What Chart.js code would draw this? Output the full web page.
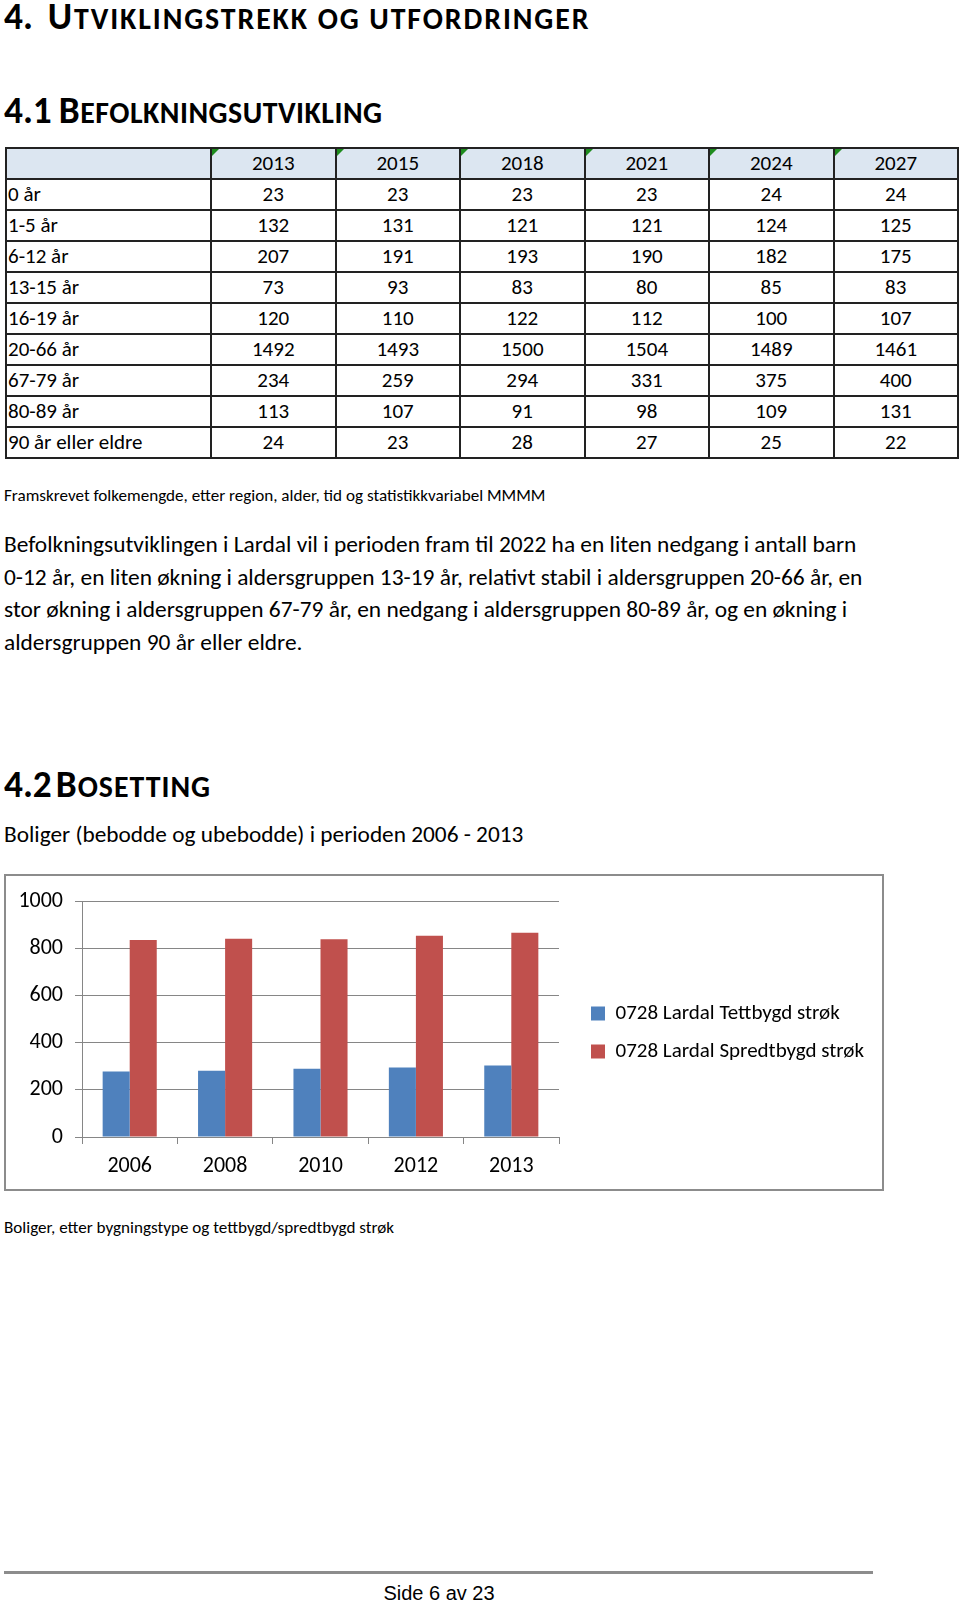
<!DOCTYPE html>
<html><head><meta charset="utf-8">
<script src="https://cdn.jsdelivr.net/npm/chart.js@4.4.1/dist/chart.umd.min.js"></script>
<style>
html,body{margin:0;padding:0;background:#fff;}
body{width:960px;height:1602px;position:relative;overflow:hidden;font-family:Carlito,Lato,sans-serif;color:#000;}
.abs{position:absolute;white-space:nowrap;}
.head{font-weight:bold;font-size:37.3px;line-height:30px;}
.head .sc{font-size:0.8em;}
.gap{display:inline-block;}
table{position:absolute;left:5px;top:147px;width:952px;border-collapse:collapse;table-layout:fixed;font-size:21px;}
td{border:2px solid #222;height:29px;padding:0;line-height:29px;text-align:center;position:relative;}
td.lab{text-align:left;padding-left:1px;}
tr.hdr td{background:#dce6f1;}
tr.hdr td.yr::before{content:"";position:absolute;left:0;top:0;border-top:7px solid #1e8c1e;border-right:7px solid transparent;}
#box{position:absolute;left:4px;top:874px;width:880px;height:317px;border:2px solid #8c8c8c;box-sizing:border-box;}
#box canvas{display:block;}
#rule{position:absolute;left:4px;top:1571px;width:869px;height:3px;background:#8c8c8c;}
</style></head>
<body>
<div class="abs head" style="left:4px;top:1px;">4.<span class="gap" style="width:14.9px"> </span><span style="letter-spacing:1.9px">U<span class="sc">TVIKLINGSTREKK OG UTFORDRINGER</span></span></div>
<div class="abs head" style="left:4px;top:94.6px;">4.1<span class="gap" style="width:7px"> </span><span style="letter-spacing:0.5px">B<span class="sc">EFOLKNINGSUTVIKLING</span></span></div>
<table id="tbl"></table>
<div class="abs" style="left:4px;top:486px;font-size:17.1px;line-height:20px;">Framskrevet folkemengde, etter region, alder, tid og statistikkvariabel MMMM</div>
<div class="abs" style="left:4px;top:528px;font-size:23.4px;line-height:32.7px;">Befolkningsutviklingen i Lardal vil i perioden fram til 2022 ha en liten nedgang i antall barn<br>0-12 år, en liten økning i aldersgruppen 13-19 år, relativt stabil i aldersgruppen 20-66 år, en<br>stor økning i aldersgruppen 67-79 år, en nedgang i aldersgruppen 80-89 år, og en økning i<br>aldersgruppen 90 år eller eldre.</div>
<div class="abs head" style="left:4px;top:769px;">4.2<span class="gap" style="width:4px"> </span><span style="letter-spacing:1px">B<span class="sc">OSETTING</span></span></div>
<div class="abs" style="left:4px;top:818px;font-size:23.3px;line-height:32px;">Boliger (bebodde og ubebodde) i perioden 2006 - 2013</div>
<div id="box"><canvas id="c" width="876" height="313"></canvas></div>
<div class="abs" style="left:4px;top:1218.2px;font-size:17.1px;line-height:20px;">Boliger, etter bygningstype og tettbygd/spredtbygd strøk</div>
<div id="rule"></div>
<div class="abs" style="left:0;width:878px;text-align:center;top:1581px;font-family:'Liberation Sans',Arial,sans-serif;font-size:20px;line-height:24px;">Side 6 av 23</div>
<script>
// ---- table data ----
const tableYears = ['2013','2015','2018','2021','2024','2027'];
const ageGroups = ['0 år','1-5 år','6-12 år','13-15 år','16-19 år','20-66 år','67-79 år','80-89 år','90 år eller eldre'];
const age0 = [23,23,23,23,24,24];
const age1to5 = [132,131,121,121,124,125];
const age6to12 = [207,191,193,190,182,175];
const age13to15 = [73,93,83,80,85,83];
const age16to19 = [120,110,122,112,100,107];
const age20to66 = [1492,1493,1500,1504,1489,1461];
const age67to79 = [234,259,294,331,375,400];
const age80to89 = [113,107,91,98,109,131];
const age90plus = [24,23,28,27,25,22];
const tableRows = [age0,age1to5,age6to12,age13to15,age16to19,age20to66,age67to79,age80to89,age90plus];

// ---- chart data ----
const chartYears = ['2006','2008','2010','2012','2013'];
const tettbygd = [278,281,289,295,303];
const spredtbygd = [835,841,839,853,866];
const seriesNames = ['0728 Lardal Tettbygd strøk','0728 Lardal Spredtbygd strøk'];
const yTicks = [0,200,400,600,800,1000];

// build table
(function(){
  const t = document.getElementById('tbl');
  const cg = document.createElement('colgroup');
  const c0 = document.createElement('col'); c0.style.width='205px'; cg.appendChild(c0);
  tableYears.forEach(()=>{const c=document.createElement('col'); c.style.width='124.5px'; cg.appendChild(c);});
  t.appendChild(cg);
  const h = document.createElement('tr'); h.className='hdr';
  const e = document.createElement('td'); h.appendChild(e);
  tableYears.forEach(y=>{const d=document.createElement('td'); d.className='yr'; d.textContent=y; h.appendChild(d);});
  t.appendChild(h);
  ageGroups.forEach((g,i)=>{
    const r=document.createElement('tr');
    const l=document.createElement('td'); l.className='lab'; l.textContent=g; r.appendChild(l);
    tableRows[i].forEach(v=>{const d=document.createElement('td'); d.textContent=v; r.appendChild(d);});
    t.appendChild(r);
  });
})();

const FONT = 'Carlito, Lato, sans-serif';
const LEG_SIZE = 21, LEG_BOX = 14, LEG_PAD = 17;
const CANVAS_W = 876, LEG_BOX_X = 585, PLOT_RIGHT = 553;
const mctx = document.createElement('canvas').getContext('2d');
mctx.font = LEG_SIZE + 'px ' + FONT;
const textW = Math.max(...seriesNames.map(s=>mctx.measureText(s).width));
const colW = LEG_BOX + LEG_SIZE/2 + textW;
const padR = Math.max(0, CANVAS_W - LEG_BOX_X - colW - 10);
const y2W = Math.max(0, (LEG_BOX_X - LEG_PAD) - PLOT_RIGHT);

new Chart(document.getElementById('c'), {
  type:'bar',
  data:{labels:chartYears, datasets:[
    {label:seriesNames[0], data:tettbygd, backgroundColor:'#4f81bd', borderWidth:0, categoryPercentage:0.567, barPercentage:1},
    {label:seriesNames[1], data:spredtbygd, backgroundColor:'#c0504d', borderWidth:0, categoryPercentage:0.567, barPercentage:1}
  ]},
  options:{
    responsive:false, animation:false, devicePixelRatio:1,
    layout:{padding:{top:0,left:0,right:padR,bottom:0}},
    plugins:{
      title:{display:true, text:'', fullSize:false, padding:{top:0,bottom:10}, font:{size:10}},
      legend:{position:'right', align:'center', maxWidth:420,
        labels:{boxWidth:LEG_BOX, boxHeight:LEG_BOX, padding:LEG_PAD, color:'#000', font:{family:FONT, size:LEG_SIZE}}},
      tooltip:{enabled:false}
    },
    scales:{
      x:{grid:{offset:true, drawOnChartArea:false, tickLength:7, color:'#868686'}, border:{color:'#868686'},
         ticks:{font:{family:FONT,size:22}, color:'#000', padding:9, maxRotation:0},
         afterFit(s){s.height=52;}},
      y:{min:0, max:1000, grid:{color:'#868686', tickLength:7}, border:{color:'#868686'},
         ticks:{font:{family:FONT,size:22}, color:'#000', padding:12, callback:(v)=>String(v)},
         afterBuildTicks(s){s.ticks = yTicks.map(v=>({value:v}));},
         afterFit(s){s.width=76;}},
      y2:{position:'right', display:true, grid:{display:false}, ticks:{display:false}, border:{display:false},
         afterFit(s){s.width=y2W;}}
    }
  }
});
</script>
</body></html>
